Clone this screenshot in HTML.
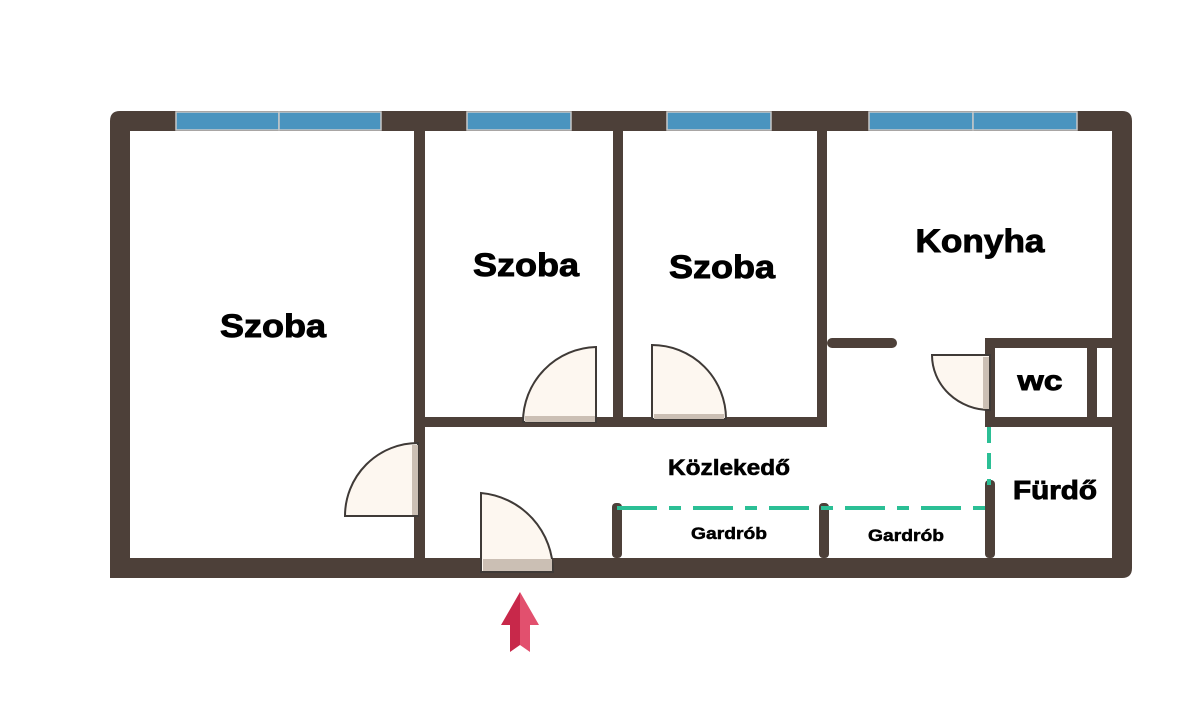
<!DOCTYPE html>
<html><head><meta charset="utf-8"><style>
html,body{margin:0;padding:0;background:#fff;}
svg text{font-family:"Liberation Sans",sans-serif;font-weight:bold;fill:#000;stroke:#000;stroke-width:0.9;text-anchor:middle;}
</style></head><body>
<svg width="1200" height="720" viewBox="0 0 1200 720" xmlns="http://www.w3.org/2000/svg">
<g fill="#4d4039">
<path d="M120,111 H1122 Q1132,111 1132,121 V568 Q1132,578 1122,578 H110 V121 Q110,111 120,111 Z M130,131 V558 H1112 V131 Z" fill-rule="evenodd"/>
<rect x="414" y="131" width="11" height="427"/>
<rect x="425" y="417" width="402" height="10"/>
<rect x="613" y="131" width="10" height="286"/>
<rect x="817" y="131" width="10" height="286"/>
<rect x="827" y="338" width="70" height="10" rx="5"/>
<rect x="985" y="338" width="127" height="10"/>
<rect x="985" y="338" width="10" height="89"/>
<rect x="1087" y="348" width="10" height="69"/>
<rect x="985" y="417" width="127" height="10"/>
<rect x="985" y="480" width="10" height="78" rx="4"/>
<rect x="612" y="503" width="10" height="55" rx="4"/>
<rect x="819" y="503" width="10" height="55" rx="4"/>
</g>
<g fill="#4a94bf" stroke="#c8c8c8" stroke-width="1.5">
<rect x="176" y="112" width="103" height="18"/>
<rect x="279" y="112" width="102" height="18"/>
<rect x="467" y="112" width="104" height="18"/>
<rect x="667" y="112" width="104" height="18"/>
<rect x="869" y="112" width="104" height="18"/>
<rect x="973" y="112" width="104" height="18"/>
</g>
<g stroke="#2bbf95" stroke-width="4" fill="none" stroke-dasharray="40,12,12,12">
<line x1="617" y1="508" x2="985" y2="508"/>
<line x1="989" y1="427" x2="989" y2="485" stroke-dasharray="16,10"/>
</g>
<g stroke="#3f3a37" stroke-width="2" fill="#fdf7f0">
<path d="M418,443 A73,73 0 0 0 345,516 L418,516 Z"/>
<path d="M481,493 A79,79 0 0 1 553,572 L481,572 Z"/>
<path d="M596,347 A75,75 0 0 0 523,422 L596,422 Z"/>
<path d="M652,345 A74,74 0 0 1 726,419 L652,419 Z"/>
<path d="M990,355 L932,355 A58,55 0 0 0 990,410 Z"/>
</g>
<g fill="#cbbfb4">
<rect x="412" y="445" width="6" height="70"/>
<rect x="483" y="559" width="69" height="12"/>
<rect x="525" y="416" width="70" height="6"/>
<rect x="654" y="414" width="70" height="5"/>
<rect x="983" y="357" width="6" height="52"/>
</g>
<path d="M520,592 L501,625 L510,625 L510,652 L520,645 Z" fill="#c8284a"/>
<path d="M520,592 L539,625 L530,625 L530,652 L520,645 Z" fill="#e2506e"/>
<text x="273" y="337" font-size="32" textLength="106" lengthAdjust="spacingAndGlyphs">Szoba</text>
<text x="526" y="276" font-size="32" textLength="106" lengthAdjust="spacingAndGlyphs">Szoba</text>
<text x="722" y="278" font-size="32" textLength="106" lengthAdjust="spacingAndGlyphs">Szoba</text>
<text x="980" y="252" font-size="32" textLength="129" lengthAdjust="spacingAndGlyphs">Konyha</text>
<text x="1040" y="390" font-size="28" textLength="45" lengthAdjust="spacingAndGlyphs">wc</text>
<text x="729" y="475" font-size="22" textLength="122" lengthAdjust="spacingAndGlyphs" style="stroke-width:0.6">Közlekedő</text>
<text x="1055" y="499" font-size="26" textLength="84" lengthAdjust="spacingAndGlyphs">Fürdő</text>
<text x="729" y="539" font-size="17" textLength="76" lengthAdjust="spacingAndGlyphs" style="stroke-width:0.5">Gardrób</text>
<text x="906" y="541" font-size="17" textLength="76" lengthAdjust="spacingAndGlyphs" style="stroke-width:0.5">Gardrób</text>
</svg>
</body></html>
